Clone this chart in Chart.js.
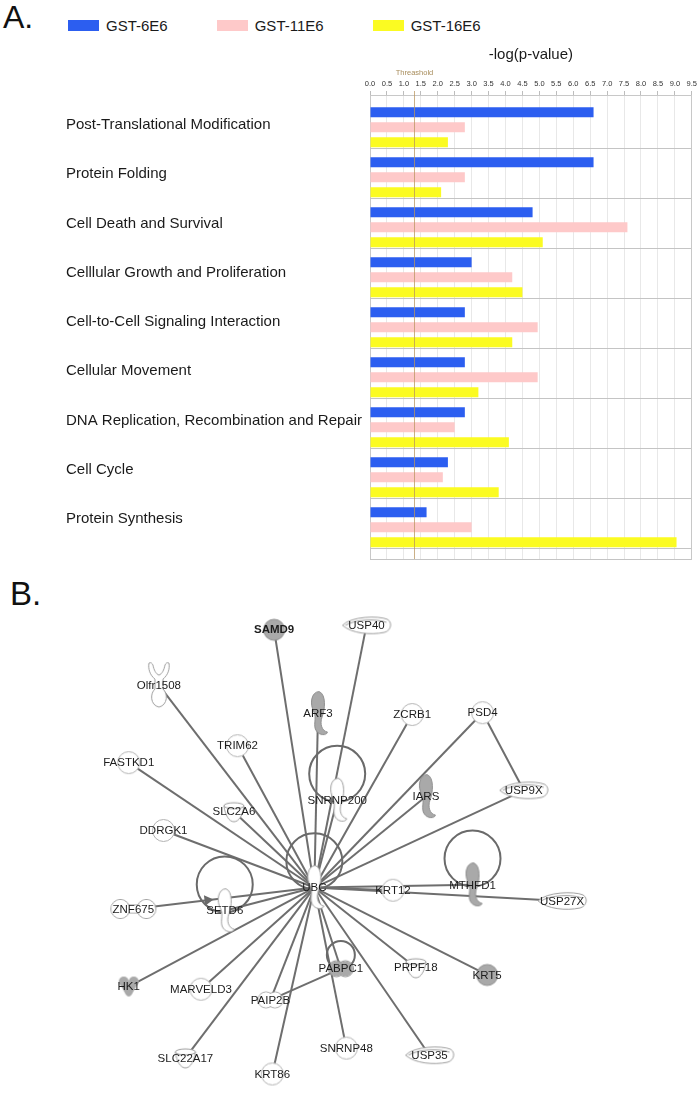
<!DOCTYPE html>
<html>
<head>
<meta charset="utf-8">
<script src="https://cdn.jsdelivr.net/npm/chart.js@4.4.1/dist/chart.umd.min.js"></script>
<style>
  html, body { margin: 0; padding: 0; background: #fff; }
  body { width: 700px; height: 1120px; position: relative; overflow: hidden; font-family: "Liberation Sans", Arial, sans-serif; color: #1a1a1a; }
  .panel-letter { position: absolute; color: #111; }
  #letterA { left: 3px; top: 1px; font-size: 32px; line-height: 32px; }
  #letterB { left: 10px; top: 577px; font-size: 33px; line-height: 33px; }
  #legend { position: absolute; left: 68px; top: 15px; height: 20px; display: flex; align-items: center; gap: 49px; font-size: 15px; }
  #legend .item { display: flex; align-items: center; }
  #legend .swatch { display: inline-block; width: 31px; height: 11px; margin-right: 7px; }
  #barChart { position: absolute; left: 0; top: 0; }
  #netChart { position: absolute; left: 0; top: 565px; }
</style>
</head>
<body>
<div class="panel-letter" id="letterA">A.</div>
<div class="panel-letter" id="letterB">B.</div>
<div id="legend"></div>
<canvas id="barChart" width="700" height="571"></canvas>
<canvas id="netChart" width="700" height="555"></canvas>

<script>
Chart.defaults.font.family = '"Liberation Sans", Arial, Helvetica, sans-serif';
Chart.defaults.color = "#222";

// ===== Panel A data =====
const categories = [
    "Post-Translational Modification",
    "Protein Folding",
    "Cell Death and Survival",
    "Celllular Growth and Proliferation",
    "Cell-to-Cell Signaling Interaction",
    "Cellular Movement",
    "DNA Replication, Recombination and Repair",
    "Cell Cycle",
    "Protein Synthesis"
];
const seriesNames = ["GST-6E6", "GST-11E6", "GST-16E6"];
const seriesColors = ["#2c5ef0", "#fec9c9", "#fbfb22"];
const gst6E6 = [6.6, 6.6, 4.8, 3.0, 2.8, 2.8, 2.8, 2.3, 1.67];
const gst11E6 = [2.8, 2.8, 7.6, 4.2, 4.95, 4.95, 2.5, 2.15, 3.0];
const gst16E6 = [2.3, 2.1, 5.1, 4.5, 4.2, 3.2, 4.1, 3.8, 9.05];
const seriesValues = [gst6E6, gst11E6, gst16E6];
const xMax = 9.5;
const xStep = 0.5;
const threshold = 1.3;
const axisTitle = "-log(p-value)";
const thresholdLabel = "Threashold";

// ===== Panel B data (network layout) =====
const nodeNames = ["SAMD9", "USP40", "Olfr1508", "ARF3", "ZCRB1", "PSD4", "TRIM62", "FASTKD1", "USP9X",
    "SNRNP200", "IARS", "SLC2A6", "DDRGK1", "UBC", "KRT12", "MTHFD1", "USP27X", "ZNF675", "SETD6",
    "PABPC1", "PRPF18", "KRT5", "HK1", "MARVELD3", "PAIP2B", "SLC22A17", "KRT86", "SNRNP48", "USP35"];
const nodeX = [267, 368, 141, 315, 418, 495, 227, 108, 540, 336, 433, 223, 146, 311, 397, 484, 582, 113, 213,
    340, 422, 500, 108, 187, 263, 170, 265, 346, 437];
const nodeY = [604, 599, 666, 698, 699, 697, 734, 753, 784, 795, 791, 808, 829, 893, 896, 890, 908, 917, 919,
    984, 983, 991, 1004, 1007, 1019, 1084, 1102, 1073, 1081];
const nodeShapes = ["grayCircle", "blob", "receptor", "crescentGray", "circle", "circle", "circle", "circle", "blob",
    "crescent", "crescentGray", "cup", "circle", "crescent", "circle", "crescentGray", "blob", "peanutWide", "crescent",
    "peanutGray", "cup", "grayCircle", "kinase", "circle", "peanut", "cup", "circle", "circle", "blob"];
const boldNodes = ["SAMD9"];
const edges = [
    ["UBC", "SAMD9"], ["UBC", "USP40"], ["UBC", "Olfr1508"], ["UBC", "ARF3"], ["UBC", "ZCRB1"],
    ["UBC", "PSD4"], ["UBC", "TRIM62"], ["UBC", "FASTKD1"], ["UBC", "USP9X"], ["UBC", "SNRNP200"],
    ["UBC", "IARS"], ["UBC", "SLC2A6"], ["UBC", "DDRGK1"], ["UBC", "KRT12"], ["UBC", "MTHFD1"],
    ["UBC", "USP27X"], ["UBC", "ZNF675"], ["UBC", "SETD6"], ["UBC", "PABPC1"], ["UBC", "PRPF18"],
    ["UBC", "KRT5"], ["UBC", "HK1"], ["UBC", "MARVELD3"], ["UBC", "PAIP2B"], ["UBC", "SLC22A17"],
    ["UBC", "KRT86"], ["UBC", "SNRNP48"], ["UBC", "USP35"], ["PSD4", "USP9X"], ["PAIP2B", "PABPC1"]
];
const loopNodes = ["SNRNP200", "UBC", "SETD6", "MTHFD1", "PABPC1"];
const loopRadius = [28, 28, 28, 28, 14];
const arrowMarks = [{ from: "ZNF675", to: "UBC", at: 0.41 }];

// ===== Legend =====
const legendEl = document.getElementById("legend");
seriesNames.forEach((name, i) => {
    const item = document.createElement("div");
    item.className = "item";
    item.innerHTML = `<span class="swatch" style="background:${seriesColors[i]}"></span><span>${name}</span>`;
    legendEl.appendChild(item);
});

// ===== Panel A chart =====
const indexMin = -0.646, indexMax = 8.634;   // frame around the bar groups
const labelMin = -0.609, labelMax = 8.812;   // row label spacing
const sepOffset = 0.42;

const thresholdPlugin = {
    id: "threshold",
    afterDatasetsDraw(chart) {
        const { ctx, chartArea, scales } = chart;
        const x = Math.round(scales.x.getPixelForValue(threshold)) + 0.5;
        ctx.save();
        ctx.strokeStyle = "rgba(185,150,95,0.75)";
        ctx.lineWidth = 1;
        ctx.beginPath();
        ctx.moveTo(x, chartArea.top - 4);
        ctx.lineTo(x, chartArea.bottom);
        ctx.stroke();
        ctx.font = '7.5px "Liberation Sans", Arial, sans-serif';
        ctx.fillStyle = "#a88d5c";
        ctx.textAlign = "center";
        ctx.textBaseline = "middle";
        ctx.fillText(thresholdLabel, x, chartArea.top - 22);
        ctx.restore();
    }
};

const integerTicks = scale => { scale.ticks = categories.map((c, i) => ({ value: i })); };

new Chart(document.getElementById("barChart"), {
    type: "bar",
    data: {
        datasets: seriesNames.map((name, s) => ({
            label: name,
            data: seriesValues[s].map((v, i) => ({ x: v, y: i })),
            backgroundColor: seriesColors[s],
            borderWidth: 0,
            categoryPercentage: 0.9,
            barPercentage: 2 / 3,
            xAxisID: "x",
            yAxisID: "y"
        }))
    },
    options: {
        indexAxis: "y",
        responsive: false,
        animation: false,
        events: [],
        layout: { padding: { top: 42, left: 66, right: 8, bottom: 6 } },
        plugins: { legend: { display: false }, tooltip: { enabled: false } },
        scales: {
            x: {
                type: "linear",
                position: "top",
                min: 0,
                max: xMax,
                ticks: {
                    stepSize: xStep, autoSkip: false, maxRotation: 0, padding: 3,
                    font: { size: 7.5 }, color: "#333",
                    callback: v => v.toFixed(1)
                },
                grid: {
                    color: c => (c.tick && c.tick.value === 0) ? "#c8c8c8" : "#e8e8e8",
                    tickColor: "#bdbdbd",
                    tickLength: 4
                },
                border: { color: "#c8c8c8" },
                title: {
                    display: true, text: axisTitle, color: "#1a1a1a",
                    font: { size: 15 }, padding: { top: 4, bottom: 12 }
                }
            },
            y: {
                type: "linear",
                display: false,
                offset: false,
                reverse: true,
                min: indexMin,
                max: indexMax,
                afterBuildTicks: integerTicks
            },
            yl: {
                type: "linear",
                position: "left",
                offset: false,
                reverse: true,
                min: labelMin,
                max: labelMax,
                afterBuildTicks: integerTicks,
                afterFit: s => { s.width = 304; },
                ticks: {
                    crossAlign: "far", autoSkip: false, color: "#1a1a1a",
                    font: { size: 15 },
                    callback: v => categories[v]
                },
                grid: { display: false, offset: false },
                border: { display: false }
            },
            y2: {
                type: "linear",
                position: "right",
                offset: false,
                reverse: true,
                min: indexMin,
                max: indexMax,
                afterBuildTicks: s => {
                    s.ticks = [{ value: indexMin }]
                        .concat(categories.map((c, i) => ({ value: i + sepOffset })))
                        .concat([{ value: indexMax }]);
                },
                afterFit: s => { s.width = 0; },
                ticks: { display: false },
                grid: { color: "#c4c4c4", drawTicks: false, offset: false },
                border: { color: "#c8c8c8" }
            }
        }
    },
    plugins: [thresholdPlugin]
});

// ===== Panel B: node glyphs =====
const WHITE = "#ffffff", LINE = "#9e9e9e", GRAY = "#a9a9a9", GRAY_LINE = "#8e8e8e";

function makeShape(w, h, draw) {
    const c = document.createElement("canvas");
    c.width = w;
    c.height = h;
    const g = c.getContext("2d");
    g.lineWidth = 1;
    draw(g);
    return c;
}

function crescentPath(g) {
    g.beginPath();
    g.moveTo(12, 1.5);
    g.bezierCurveTo(4, 2, 2.5, 14, 7, 22);
    g.bezierCurveTo(10, 28, 5.5, 36, 9.5, 41);
    g.bezierCurveTo(12.5, 45.5, 19.5, 45.5, 20.5, 42);
    g.bezierCurveTo(15, 41, 12.5, 34, 15, 27);
    g.bezierCurveTo(18, 20, 19.5, 4, 12, 1.5);
    g.closePath();
}

function peanut(g, cx1, cx2, cy, r, waist, fill, stroke) {
    g.strokeStyle = stroke;
    g.fillStyle = fill;
    [cx1, cx2].forEach(cx => { g.beginPath(); g.arc(cx, cy, r, 0, Math.PI * 2); g.stroke(); });
    if (waist) g.strokeRect(cx1, cy - waist, cx2 - cx1, waist * 2);
    [cx1, cx2].forEach(cx => { g.beginPath(); g.arc(cx, cy, r - 0.6, 0, Math.PI * 2); g.fill(); });
    if (waist) g.fillRect(cx1, cy - waist + 0.6, cx2 - cx1, waist * 2 - 1.2);
}

const shapeImages = {
    circle: makeShape(25, 25, g => {
        g.beginPath(); g.arc(12.5, 12.5, 11, 0, Math.PI * 2);
        g.fillStyle = WHITE; g.fill(); g.strokeStyle = "#b3b3b3"; g.stroke();
    }),
    grayCircle: makeShape(25, 25, g => {
        g.beginPath(); g.arc(12.5, 12.5, 10.5, 0, Math.PI * 2);
        g.fillStyle = GRAY; g.fill(); g.strokeStyle = GRAY_LINE; g.stroke();
    }),
    blob: makeShape(52, 22, g => {
        g.beginPath();
        g.moveTo(2, 11);
        g.bezierCurveTo(10, 2, 38, 1, 47, 5);
        g.bezierCurveTo(52, 8, 51, 16, 44, 18);
        g.bezierCurveTo(30, 21, 11, 19, 2, 11);
        g.closePath();
        g.fillStyle = WHITE; g.fill(); g.strokeStyle = LINE; g.stroke();
        g.beginPath(); g.moveTo(5, 11); g.bezierCurveTo(14, 5, 36, 4, 46, 8); g.stroke();
    }),
    crescent: makeShape(22, 47, g => {
        crescentPath(g); g.fillStyle = WHITE; g.fill(); g.strokeStyle = LINE; g.stroke();
    }),
    crescentGray: makeShape(22, 47, g => {
        crescentPath(g); g.fillStyle = GRAY; g.fill(); g.strokeStyle = GRAY_LINE; g.stroke();
    }),
    cup: makeShape(24, 24, g => {
        g.beginPath();
        g.moveTo(2, 6);
        g.bezierCurveTo(3, 15, 7, 22, 12, 22);
        g.bezierCurveTo(17, 22, 21, 15, 22, 6);
        g.closePath();
        g.fillStyle = WHITE; g.fill(); g.strokeStyle = LINE; g.stroke();
        g.beginPath(); g.ellipse(12, 6, 10, 3, 0, 0, Math.PI * 2); g.fill(); g.stroke();
    }),
    receptor: makeShape(26, 48, g => {
        g.beginPath();
        g.moveTo(3, 2);
        g.bezierCurveTo(2, 8, 4, 14, 9, 18);
        g.lineTo(9, 28);
        g.bezierCurveTo(4, 32, 4, 44, 13, 46);
        g.bezierCurveTo(22, 44, 22, 32, 17, 28);
        g.lineTo(17, 18);
        g.bezierCurveTo(22, 14, 24, 8, 23, 2);
        g.bezierCurveTo(21, 1, 20, 2, 19, 4);
        g.bezierCurveTo(18, 9, 16, 13, 13, 14);
        g.bezierCurveTo(10, 13, 8, 9, 7, 4);
        g.bezierCurveTo(6, 2, 5, 1, 3, 2);
        g.closePath();
        g.fillStyle = WHITE; g.fill(); g.strokeStyle = LINE; g.stroke();
    }),
    peanut: makeShape(26, 22, g => peanut(g, 8.5, 17.5, 11, 8, 0, WHITE, LINE)),
    peanutGray: makeShape(26, 22, g => peanut(g, 8.5, 17.5, 11, 8, 0, GRAY, GRAY_LINE)),
    peanutWide: makeShape(48, 22, g => peanut(g, 11, 37, 11, 9.5, 4, WHITE, LINE)),
    kinase: makeShape(24, 24, g => {
        g.fillStyle = GRAY;
        g.beginPath(); g.arc(7, 7, 5, 0, Math.PI * 2); g.fill();
        g.beginPath(); g.arc(17, 7, 5, 0, Math.PI * 2); g.fill();
        g.beginPath();
        g.moveTo(2.5, 8); g.lineTo(21.5, 8); g.lineTo(15, 20);
        g.quadraticCurveTo(12, 24, 9, 20);
        g.closePath(); g.fill();
    })
};

// ===== Panel B chart =====
const byName = name => nodeNames.indexOf(name);
const pos = name => ({ x: nodeX[byName(name)], y: nodeY[byName(name)] });

const edgeDatasets = edges.map(([a, b]) => ({
    type: "line",
    data: [pos(a), pos(b)],
    borderColor: "#6e6e6e",
    borderWidth: 2,
    pointRadius: 0,
    fill: false,
    order: 3
}));

const loopDataset = {
    type: "bubble",
    data: loopNodes.map((n, i) => ({ x: pos(n).x, y: pos(n).y - loopRadius[i] - 1.5, r: loopRadius[i] })),
    backgroundColor: "rgba(0,0,0,0)",
    borderColor: "#6a6a6a",
    borderWidth: 2,
    order: 2
};

const arrowPoints = arrowMarks.map(m => {
    const a = pos(m.from), b = pos(m.to);
    return { x: a.x + (b.x - a.x) * m.at, y: a.y + (b.y - a.y) * m.at };
});
const arrowRotations = arrowMarks.map(m => {
    const a = pos(m.from), b = pos(m.to);
    return Math.atan2(b.y - a.y, b.x - a.x) * 180 / Math.PI + 90;
});
const arrowDataset = {
    type: "scatter",
    data: arrowPoints,
    pointStyle: "triangle",
    pointRadius: 6,
    pointRotation: c => arrowRotations[c.dataIndex],
    pointBackgroundColor: "#6a6a6a",
    pointBorderWidth: 0,
    order: 1
};

const nodeDataset = {
    type: "scatter",
    data: nodeNames.map((n, i) => ({ x: nodeX[i], y: nodeY[i] })),
    pointStyle: c => shapeImages[nodeShapes[c.dataIndex]],
    pointRadius: 5,
    order: 0
};

const netDatasets = edgeDatasets.concat([loopDataset, arrowDataset, nodeDataset]);
const nodeDatasetIndex = netDatasets.length - 1;

const nodeLabelPlugin = {
    id: "nodeLabels",
    afterDatasetsDraw(chart) {
        const meta = chart.getDatasetMeta(nodeDatasetIndex);
        const ctx = chart.ctx;
        ctx.save();
        ctx.textAlign = "center";
        ctx.textBaseline = "middle";
        ctx.fillStyle = "#1c1c1c";
        meta.data.forEach((pt, i) => {
            const bold = boldNodes.includes(nodeNames[i]);
            ctx.font = (bold ? "bold " : "") + '11.5px "Liberation Sans", Arial, sans-serif';
            ctx.fillText(nodeNames[i], pt.x, pt.y + 0.5);
        });
        ctx.restore();
    }
};

new Chart(document.getElementById("netChart"), {
    type: "scatter",
    data: { datasets: netDatasets },
    options: {
        responsive: false,
        animation: false,
        events: [],
        layout: { padding: 0 },
        plugins: { legend: { display: false }, tooltip: { enabled: false } },
        scales: {
            x: { type: "linear", min: 0, max: 700, display: false },
            y: { type: "linear", min: 565, max: 1120, reverse: true, display: false }
        }
    },
    plugins: [nodeLabelPlugin]
});
</script>
</body>
</html>
